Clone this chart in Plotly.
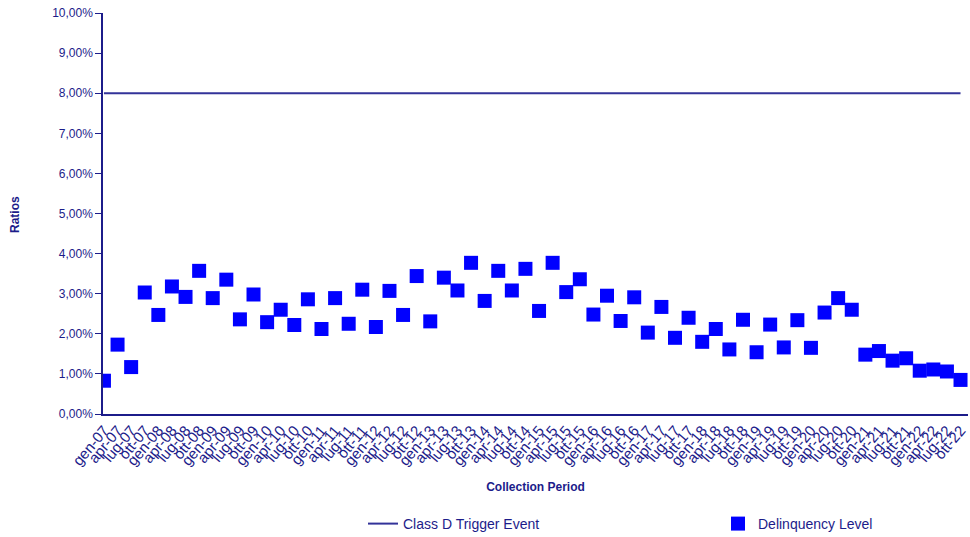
import plotly.graph_objects as go

years = list(range(2007, 2023))
months = ["gen", "apr", "lug", "ott"]
periods = [f"{m}-{str(y)[2:]}" for y in years for m in months]

delinquency_pct = [
    0.83, 1.73, 1.17, 3.03, 2.47, 3.18, 2.92, 3.57, 2.89, 3.35, 2.36, 2.98,
    2.29, 2.60, 2.22, 2.86, 2.12, 2.89, 2.25, 3.10, 2.17, 3.07, 2.47, 3.44,
    2.31, 3.40, 3.08, 3.77, 2.82, 3.57, 3.08, 3.62, 2.57, 3.77, 3.04, 3.36,
    2.48, 2.95, 2.32, 2.91, 2.03, 2.67, 1.90, 2.40, 1.80, 2.12, 1.61, 2.35,
    1.54, 2.23, 1.66, 2.34, 1.65, 2.53, 2.89, 2.60, 1.48, 1.57, 1.33, 1.39,
    1.08, 1.11, 1.06, 0.85,
]
trigger_pct = [8.0] * len(periods)

x_idx = list(range(len(periods)))
NAVY = "#1c1c8a"
FONT = "Liberation Sans, Arial, sans-serif"

fig = go.Figure()
fig.add_trace(go.Scatter(
    x=x_idx, y=[v / 100 for v in trigger_pct], mode="lines",
    name="Class D Trigger Event",
    line=dict(color="#333399", width=2),
    legend="legend",
))
fig.add_trace(go.Scatter(
    x=x_idx, y=[v / 100 for v in delinquency_pct], mode="markers",
    name="Delinquency Level",
    marker=dict(symbol="square", color="#0000ff", size=14,
                line=dict(width=0)),
    legend="legend2",
))

fig.update_layout(
    width=970, height=537,
    margin=dict(l=103, r=2, t=13, b=123, autoexpand=False),
    paper_bgcolor="white", plot_bgcolor="white",
    separators=",.",
    font=dict(family=FONT, color=NAVY, size=12),
    showlegend=True,
    legend=dict(xref="container", yref="container", x=363 / 970, y=1 - 524 / 537,
                xanchor="left", yanchor="middle", bgcolor="rgba(0,0,0,0)",
                font=dict(size=14, color=NAVY)),
    legend2=dict(xref="container", yref="container", x=718 / 970, y=1 - 524 / 537,
                 xanchor="left", yanchor="middle", bgcolor="rgba(0,0,0,0)",
                 font=dict(size=14, color=NAVY)),
    xaxis=dict(
        range=[-0.07, 63.55],
        tickmode="array", tickvals=x_idx, ticktext=periods,
        tickangle=-50, tickfont=dict(size=15, color=NAVY),
        ticklabeloverflow="allow",
        showline=True, linecolor=NAVY, linewidth=1.5,
        showgrid=False, zeroline=False, ticks="",
        title=dict(text="<b>Collection Period</b>", font=dict(size=12, color=NAVY),
                   standoff=15),
    ),
    yaxis=dict(
        range=[0, 0.1], tickformat=".2%", dtick=0.01,
        tickfont=dict(size=12, color=NAVY),
        showline=True, linecolor=NAVY, linewidth=1.5,
        ticks="outside", ticklen=6, tickcolor=NAVY,
        showgrid=False, zeroline=False,
    ),
    annotations=[dict(
        text="<b>Ratios</b>", textangle=-90, showarrow=False,
        xref="paper", yref="paper", x=(15 - 103) / 865, y=(414 - 215) / 401,
        xanchor="center", yanchor="middle", font=dict(size=12, color=NAVY),
    )],
)

fig.write_html("out.html", config={"displayModeBar": False},
               post_script="document.body.style.margin='0';")
